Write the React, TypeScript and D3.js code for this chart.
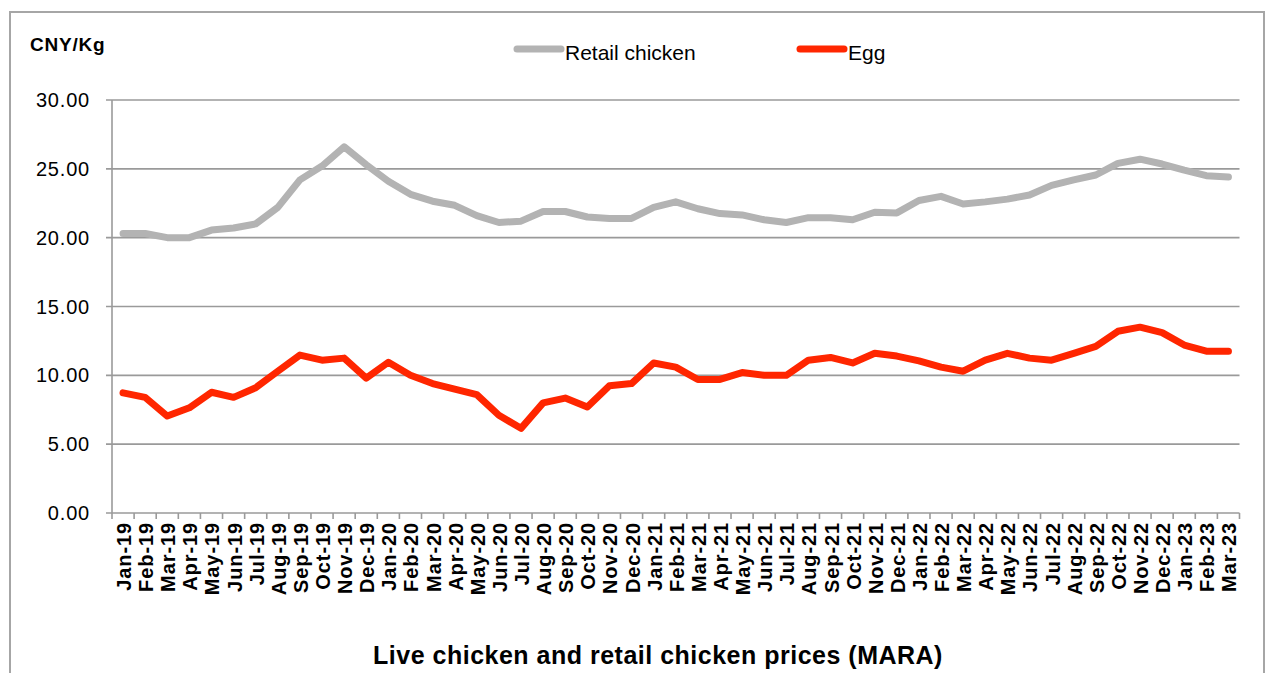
import React, { useEffect, useRef } from "react";
import * as d3 from "d3";

const months = [
  "Jan-19", "Feb-19", "Mar-19", "Apr-19", "May-19", "Jun-19", "Jul-19", "Aug-19", "Sep-19", "Oct-19", "Nov-19", "Dec-19",
  "Jan-20", "Feb-20", "Mar-20", "Apr-20", "May-20", "Jun-20", "Jul-20", "Aug-20", "Sep-20", "Oct-20", "Nov-20", "Dec-20",
  "Jan-21", "Feb-21", "Mar-21", "Apr-21", "May-21", "Jun-21", "Jul-21", "Aug-21", "Sep-21", "Oct-21", "Nov-21", "Dec-21",
  "Jan-22", "Feb-22", "Mar-22", "Apr-22", "May-22", "Jun-22", "Jul-22", "Aug-22", "Sep-22", "Oct-22", "Nov-22", "Dec-22",
  "Jan-23", "Feb-23", "Mar-23",
];

const retailChicken = [
  20.3, 20.3, 20.0, 20.0, 20.55, 20.7, 21.0, 22.2, 24.2, 25.2, 26.6, 25.3,
  24.1, 23.15, 22.65, 22.35, 21.6, 21.1, 21.2, 21.9, 21.9, 21.5, 21.4, 21.4,
  22.2, 22.6, 22.1, 21.75, 21.65, 21.3, 21.1, 21.45, 21.45, 21.3, 21.85, 21.8,
  22.7, 23.0, 22.45, 22.6, 22.8, 23.1, 23.8, 24.2, 24.55, 25.4, 25.7, 25.35,
  24.9, 24.5, 24.4,
];

const egg = [
  8.73, 8.4, 7.04, 7.64, 8.77, 8.4, 9.1, 10.3, 11.47, 11.1, 11.25, 9.8,
  10.95, 10.0, 9.4, 9.0, 8.6, 7.1, 6.15, 8.0, 8.35, 7.7, 9.25, 9.4,
  10.9, 10.6, 9.7, 9.7, 10.2, 10.0, 10.0, 11.1, 11.3, 10.9, 11.6, 11.4,
  11.05, 10.6, 10.3, 11.1, 11.6, 11.25, 11.1, 11.6, 12.1, 13.2, 13.5, 13.1,
  12.2, 11.75, 11.75,
];

const yTicks = [0, 5, 10, 15, 20, 25, 30];

const series = [
  { name: "Retail chicken", values: retailChicken, color: "#b3b3b3" },
  { name: "Egg", values: egg, color: "#ff2600" },
];

const W = 1267, H = 673;

const App = () => {
  const svgRef = useRef<SVGSVGElement>(null);

  useEffect(() => {
    const svg = d3.select(svgRef.current);
    svg.selectAll("*").remove();

    const left = 112, right = 1239.5, top = 100, bottom = 513;
    const font = "'Liberation Sans', Arial, Helvetica, sans-serif";

    const x = d3.scaleBand<string>().domain(months).range([left, right]).padding(0);
    const y = d3.scaleLinear().domain([0, 30]).range([bottom, top]);

    // outer frame
    svg.append("rect")
      .attr("x", 10).attr("y", 12)
      .attr("width", 1254).attr("height", 700)
      .attr("fill", "none").attr("stroke", "#a6a6a6").attr("stroke-width", 2);

    // gridlines
    svg.append("g")
      .selectAll("line")
      .data(yTicks)
      .enter()
      .append("line")
      .attr("x1", left - 6).attr("x2", right)
      .attr("y1", d => y(d)).attr("y2", d => y(d))
      .attr("stroke", "#9a9a9a").attr("stroke-width", 1.6);

    // y axis line
    svg.append("line")
      .attr("x1", left).attr("x2", left)
      .attr("y1", top).attr("y2", bottom)
      .attr("stroke", "#9a9a9a").attr("stroke-width", 1.6);

    // y tick labels
    svg.append("g")
      .selectAll("text")
      .data(yTicks)
      .enter()
      .append("text")
      .attr("x", 90).attr("y", d => y(d) + 7)
      .attr("text-anchor", "end")
      .style("font-family", font).style("font-size", "20px").style("letter-spacing", "0.8px")
      .text(d => d.toFixed(2));

    // x ticks at category boundaries
    const xTicks = months.map(m => x(m) as number).concat([right]);
    svg.append("g")
      .selectAll("line")
      .data(xTicks)
      .enter()
      .append("line")
      .attr("x1", d => d).attr("x2", d => d)
      .attr("y1", bottom).attr("y2", bottom + 6)
      .attr("stroke", "#9a9a9a").attr("stroke-width", 1.6);

    // x labels
    svg.append("g")
      .selectAll("text")
      .data(months)
      .enter()
      .append("text")
      .attr("transform", d => `translate(${(x(d) as number) + x.bandwidth() / 2 + 8},522) rotate(-90)`)
      .attr("text-anchor", "end")
      .style("font-family", font).style("font-size", "20px").style("font-weight", "bold")
      .style("letter-spacing", "0.9px")
      .text(d => d);

    // lines
    const line = d3.line<number>()
      .x((_, i) => (x(months[i]) as number) + x.bandwidth() / 2)
      .y(d => y(d));

    series.forEach(s => {
      svg.append("path")
        .datum(s.values)
        .attr("d", line)
        .attr("fill", "none")
        .attr("stroke", s.color)
        .attr("stroke-width", 7)
        .attr("stroke-linejoin", "round")
        .attr("stroke-linecap", "round");
    });

    // unit label
    svg.append("text")
      .attr("x", 30).attr("y", 51)
      .style("font-family", font).style("font-size", "19px").style("font-weight", "bold")
      .style("letter-spacing", "0.8px")
      .text("CNY/Kg");

    // legend
    const legendX = [515, 798];
    series.forEach((s, i) => {
      svg.append("line")
        .attr("x1", legendX[i] + 2).attr("x2", legendX[i] + 46)
        .attr("y1", 49).attr("y2", 49)
        .attr("stroke", s.color).attr("stroke-width", 7)
        .attr("stroke-linecap", "round");
      svg.append("text")
        .attr("x", legendX[i] + 50).attr("y", 60)
        .style("font-family", font).style("font-size", "21px")
        .text(s.name);
    });

    // title
    svg.append("text")
      .attr("x", 658).attr("y", 664)
      .attr("text-anchor", "middle")
      .style("font-family", font).style("font-size", "25px").style("font-weight", "bold")
      .style("letter-spacing", "0.5px")
      .text("Live chicken and retail chicken prices (MARA)");
  }, []);

  return (
    <svg
      ref={svgRef}
      width={W}
      height={H}
      style={{ position: "absolute", left: 0, top: 0, background: "#fff" }}
    />
  );
};

export default App;
